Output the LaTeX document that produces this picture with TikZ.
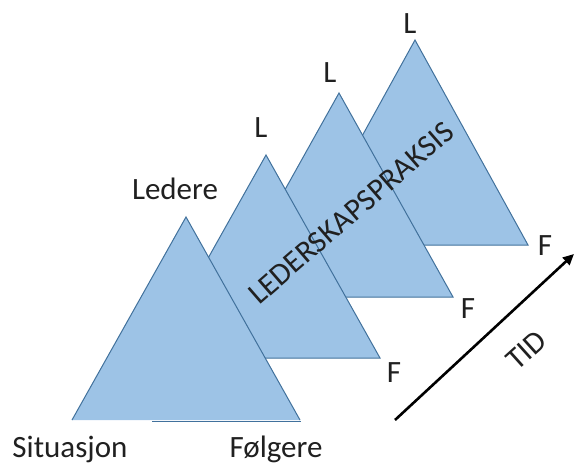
\documentclass[tikz,border=0pt]{standalone}
\usepackage{fontspec}
\setmainfont{Carlito}
\usetikzlibrary{arrows.meta}
\definecolor{pyrfill}{HTML}{9DC3E6}
\definecolor{pyredge}{HTML}{41719C}
\definecolor{labeltext}{HTML}{202020}
\begin{document}
\begin{tikzpicture}[x=1pt,y=-1pt,
  pyramid/.style={fill=pyrfill,draw=pyredge,line width=1pt,line join=miter},
  lbl/.style={font=\fontsize{31}{36}\selectfont,text=labeltext,inner sep=0pt,anchor=base},
  timearrow/.style={draw=black,line width=2.6pt,-{Triangle[length=11pt,width=10pt]}}
]
\useasboundingbox (0,0) rectangle (574,467);

% pyramids, from the back one to the front one
\draw[pyramid] (415,40) -- (528,245) -- (302,245) -- cycle;
\draw[pyramid] (339,93) -- (453,297) -- (225,297) -- cycle;
\draw[pyramid] (266,155) -- (380,358) -- (152,358) -- cycle;
% front pyramid: sides outlined, base line only under the right part
\fill[pyrfill] (186,217) -- (300,420) -- (72,420) -- cycle;
\draw[pyramid,fill=none] (72,420) -- (186,217) -- (300,420);
\draw[pyredge,line width=1pt] (152,421) -- (301,421);

% corner labels
\node[lbl] (ledere) at (175,199) {Ledere};
\node[lbl] (l2) at (261,137) {L};
\node[lbl] (l3) at (330,82) {L};
\node[lbl] (l4) at (410,33) {L};
\node[lbl] (f4) at (545,255) {F};
\node[lbl] (f3) at (468,318) {F};
\node[lbl] (f2) at (394,382) {F};
\node[lbl] (situasjon) at (70,457) {Situasjon};
\node[lbl] (folgere) at (276,457) {Følgere};

% slanted titles
\node[lbl,anchor=center,rotate=41] (praksis) at (351,213) {LEDERSKAPSPRAKSIS};
\node[lbl,anchor=center,rotate=42] (tid) at (526,350) {TID};

% time axis
\coordinate (tidstart) at (395,420);
\coordinate (tidend) at (574,254);
\draw[timearrow] (tidstart) -- (tidend);
\end{tikzpicture}
\end{document}
